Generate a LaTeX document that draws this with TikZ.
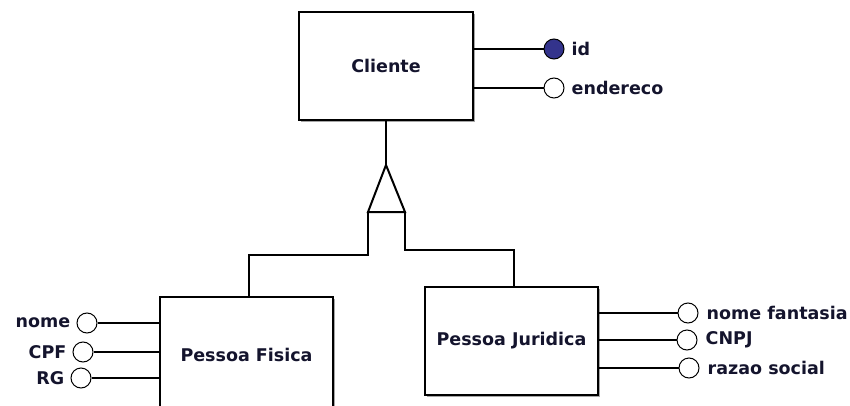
\documentclass[tikz,border=0pt]{standalone}
\usepackage{fontspec}
\setmainfont{DejaVu Sans}
\usetikzlibrary{shadows}
\definecolor{keyblue}{RGB}{51,51,140}
\definecolor{inkc}{RGB}{20,20,45}
\tikzset{
  entity/.style={draw=black, line width=1.3pt, fill=white, rectangle,
    font=\bfseries\fontsize{17.5}{20}\selectfont, text=inkc,
    drop shadow={shadow xshift=2pt, shadow yshift=-2pt, fill=black!35, opacity=1}},
  attr/.style={draw=black, line width=1pt, fill=white, circle, minimum size=20pt, inner sep=0pt},
  keyattr/.style={attr, fill=keyblue},
  lbl/.style={font=\bfseries\fontsize{17.5}{20}\selectfont, text=inkc, inner sep=0pt},
  link/.style={line width=1.2pt, draw=black},
  isa/.style={line width=2pt, draw=black, line join=miter}
}
\begin{document}
\begin{tikzpicture}[x=1pt,y=-1pt]
\useasboundingbox (0,0) rectangle (850,406);
\begin{scope}
\clip (0,0) rectangle (850,406);

% entities
\node[entity, minimum width=174pt, minimum height=108pt] (cliente) at (386,66) {Cliente};
\node[entity, minimum width=173pt, minimum height=115pt] (pf) at (246.5,354.5) {Pessoa Fisica};
\node[entity, minimum width=173pt, minimum height=108pt] (pj) at (511.5,341) {Pessoa Juridica};

% attributes of Cliente
\node[keyattr] (id) at (554,49) {};
\node[attr] (end) at (554,88) {};
\node[lbl, anchor=west] (idl) at ([xshift=7pt]id.east) {id};
\node[lbl, anchor=west] (endl) at ([xshift=7pt]end.east) {endereco};
\draw[link] (cliente.east |- id) -- (id);
\draw[link] (cliente.east |- end) -- (end);

% attributes of Pessoa Fisica
\node[attr] (nome) at (87,323) {};
\node[attr] (cpf) at (83,352) {};
\node[attr] (rg) at (81,378) {};
\node[lbl, anchor=east] (nomel) at ([xshift=-6pt]nome.west) {nome};
\node[lbl, anchor=east] (cpfl) at ([xshift=-6pt]cpf.west) {CPF};
\node[lbl, anchor=east] (rgl) at ([xshift=-6pt]rg.west) {RG};
\draw[link] (nome) -- (pf.west |- nome);
\draw[link] (cpf) -- (pf.west |- cpf);
\draw[link] (rg) -- (pf.west |- rg);

% attributes of Pessoa Juridica
\node[attr] (nf) at (688,313) {};
\node[attr] (cnpj) at (687,340) {};
\node[attr] (rs) at (689,368) {};
\node[lbl, anchor=west] (nfl) at ([xshift=8pt]nf.east) {nome fantasia};
\node[lbl, anchor=west] (cnpjl) at ([xshift=8pt]cnpj.east) {CNPJ};
\node[lbl, anchor=west] (rsl) at ([xshift=8pt]rs.east) {razao social};
\draw[link] (pj.east |- nf) -- (nf);
\draw[link] (pj.east |- cnpj) -- (cnpj);
\draw[link] (pj.east |- rs) -- (rs);

% generalization triangle
\coordinate (apex) at (386,165);
\coordinate (tl) at (368,212);
\coordinate (tr) at (405,212);
\coordinate (lk) at (249,255);
\coordinate (rk) at (514,250);
\draw[link] (cliente.south) -- (apex);
\draw[isa] (apex) -- (tl) -- (tr) -- cycle;
\draw[link] (tl) |- (lk) -- (lk |- pf.north);
\draw[link] (tr) |- (rk) -- (rk |- pj.north);
\end{scope}
\end{tikzpicture}
\end{document}
